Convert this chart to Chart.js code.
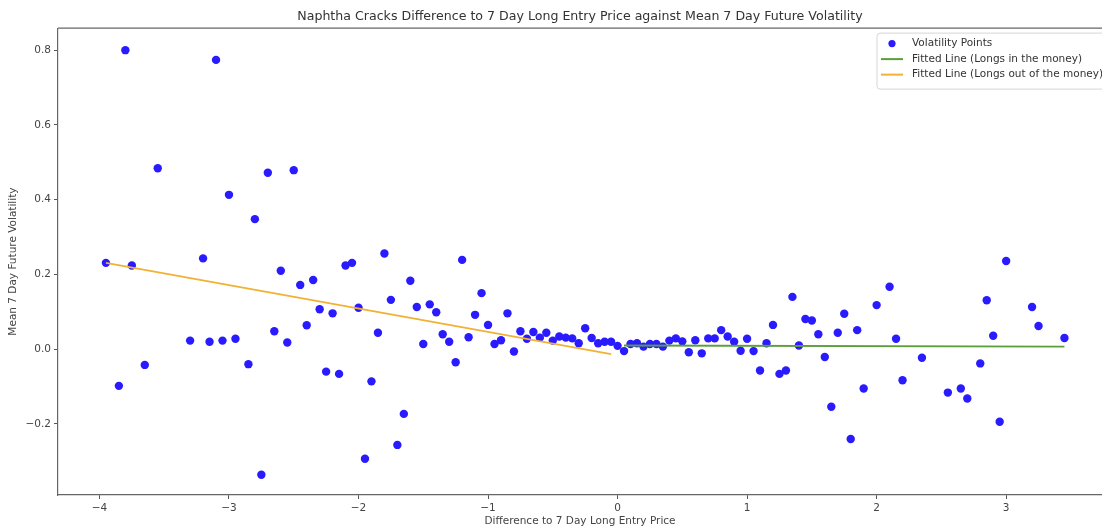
<!DOCTYPE html>
<html>
<head>
<meta charset="utf-8">
<script src="https://cdn.jsdelivr.net/npm/chart.js@4"></script>
<style>
  body { margin: 0; background: #fff; }
  #wrap { width: 1102px; height: 529px; position: relative; }
</style>
</head>
<body>
<div id="wrap"><canvas id="chart"></canvas></div>
<script>
// scatter points: difference to entry price vs mean 7 day future volatility
const diffX = [
  -3.95, -3.85, -3.80, -3.75, -3.65, -3.55, -3.30, -3.20, -3.15, -3.10,
  -3.05, -3.00, -2.95, -2.85, -2.80, -2.75, -2.70, -2.65, -2.60, -2.55,
  -2.50, -2.45, -2.40, -2.35, -2.30, -2.25, -2.20, -2.15, -2.10, -2.05,
  -2.00, -1.95, -1.90, -1.85, -1.80, -1.75, -1.70, -1.65, -1.60, -1.55,
  -1.50, -1.45, -1.40, -1.35, -1.30, -1.25, -1.20, -1.15, -1.10, -1.05,
  -1.00, -0.95, -0.90, -0.85, -0.80, -0.75, -0.70, -0.65, -0.60, -0.55,
  -0.50, -0.45, -0.40, -0.35, -0.30, -0.25, -0.20, -0.15, -0.10, -0.05,
  0.00, 0.05, 0.10, 0.15, 0.20, 0.25, 0.30, 0.35, 0.40, 0.45,
  0.50, 0.55, 0.60, 0.65, 0.70, 0.75, 0.80, 0.85, 0.90, 0.95,
  1.00, 1.05, 1.10, 1.15, 1.20, 1.25, 1.30, 1.35, 1.40, 1.45,
  1.50, 1.55, 1.60, 1.65, 1.70, 1.75, 1.80, 1.85, 1.90, 2.00,
  2.10, 2.15, 2.20, 2.35, 2.55, 2.65, 2.70, 2.80, 2.85, 2.90,
  2.95, 3.00, 3.20, 3.25, 3.45
];
const volY = [
  0.231, -0.098, 0.800, 0.224, -0.042, 0.484, 0.023, 0.243, 0.020, 0.774,
  0.023, 0.413, 0.028, -0.040, 0.348, -0.336, 0.472, 0.048, 0.210, 0.018,
  0.479, 0.172, 0.064, 0.185, 0.107, -0.060, 0.096, -0.066, 0.224, 0.231,
  0.111, -0.293, -0.086, 0.044, 0.256, 0.132, -0.256, -0.173, 0.183, 0.113,
  0.014, 0.120, 0.099, 0.040, 0.020, -0.035, 0.239, 0.032, 0.092, 0.150,
  0.065, 0.014, 0.024, 0.096, -0.006, 0.048, 0.028, 0.046, 0.031, 0.044,
  0.023, 0.034, 0.031, 0.029, 0.016, 0.056, 0.030, 0.016, 0.020, 0.020,
  0.009, -0.005, 0.014, 0.016, 0.007, 0.014, 0.014, 0.007, 0.023, 0.029,
  0.021, -0.008, 0.024, -0.011, 0.029, 0.029, 0.051, 0.034, 0.020, -0.004,
  0.028, -0.005, -0.057, 0.016, 0.065, -0.066, -0.057, 0.140, 0.010, 0.081,
  0.077, 0.040, -0.021, -0.154, 0.044, 0.095, -0.240, 0.051, -0.105, 0.118,
  0.167, 0.028, -0.083, -0.023, -0.116, -0.105, -0.132, -0.038, 0.131, 0.036,
  -0.194, 0.236, 0.113, 0.062, 0.030
];

// fitted line end points
const inMoneyX = [0.05, 3.45];
const inMoneyY = [0.010, 0.007];
const outMoneyX = [-3.95, -0.05];
const outMoneyY = [0.231, -0.013];

const xTicks = [-4, -3, -2, -1, 0, 1, 2, 3];
const yTicks = [-0.2, 0.0, 0.2, 0.4, 0.6, 0.8];

const seriesNames = ['Volatility Points', 'Fitted Line (Longs in the money)', 'Fitted Line (Longs out of the money)'];

const FONT = 'DejaVu Sans';
const toPts = (xs, ys) => xs.map((x, i) => ({ x, y: ys[i] }));
const minus = s => String(s).replace('-', '\u2212');

// matplotlib style top spine and legend inside the axes
const framePlugin = {
  id: 'frame',
  afterDraw(chart) {
    const { ctx, chartArea: a } = chart;
    ctx.save();
    ctx.strokeStyle = '#666';
    ctx.lineWidth = 1.2;
    ctx.beginPath();
    ctx.moveTo(a.left, a.top);
    ctx.lineTo(a.right, a.top);
    ctx.stroke();

    // legend
    const lx = a.right - 225, ly = a.top + 5, lw = 240, lh = 56;
    ctx.fillStyle = 'rgba(255,255,255,0.85)';
    ctx.strokeStyle = '#d6d6d6';
    ctx.lineWidth = 1;
    ctx.beginPath();
    ctx.roundRect(lx, ly, lw, lh, 3);
    ctx.fill();
    ctx.stroke();

    const ds = chart.data.datasets;
    ctx.font = '10.5px "' + FONT + '"';
    ctx.textBaseline = 'middle';
    ds.forEach((d, i) => {
      const cy = ly + 10.5 + i * 15.5;
      if (i === 0) {
        ctx.fillStyle = d.backgroundColor;
        ctx.beginPath();
        ctx.arc(lx + 15, cy, 3.6, 0, Math.PI * 2);
        ctx.fill();
      } else {
        ctx.strokeStyle = d.borderColor;
        ctx.lineWidth = 2;
        ctx.beginPath();
        ctx.moveTo(lx + 4, cy);
        ctx.lineTo(lx + 26, cy);
        ctx.stroke();
      }
      ctx.fillStyle = '#333';
      ctx.fillText(d.label, lx + 35, cy);
    });
    ctx.restore();
  }
};

new Chart(document.getElementById('chart'), {
  type: 'scatter',
  data: {
    datasets: [
      {
        label: seriesNames[0],
        data: toPts(diffX, volY),
        backgroundColor: '#2a1bff',
        borderWidth: 0,
        pointRadius: 4.2,
        order: 3
      },
      {
        label: seriesNames[1],
        type: 'line',
        data: toPts(inMoneyX, inMoneyY),
        borderColor: '#5b9e3c',
        borderWidth: 1.8,
        pointRadius: 0,
        fill: false,
        order: 1
      },
      {
        label: seriesNames[2],
        type: 'line',
        data: toPts(outMoneyX, outMoneyY),
        borderColor: '#f2b134',
        borderWidth: 1.8,
        pointRadius: 0,
        fill: false,
        order: 2
      }
    ]
  },
  options: {
    responsive: true,
    maintainAspectRatio: false,
    animation: false,
    layout: { padding: 0, autoPadding: false },
    plugins: {
      legend: { display: false },
      tooltip: { enabled: false },
      title: {
        display: true,
        fullSize: false,
        text: 'Naphtha Cracks Difference to 7 Day Long Entry Price against Mean 7 Day Future Volatility',
        color: '#333',
        font: { family: FONT, size: 12.6, weight: 'normal' },
        padding: { top: 9, bottom: 4 }
      }
    },
    scales: {
      x: {
        type: 'linear',
        min: -4.32,
        max: 3.74,
        afterFit: s => { s.height = 34; s.paddingLeft = 0; s.paddingRight = 0; },
        afterBuildTicks: s => { s.ticks = xTicks.map(v => ({ value: v })); },
        grid: { drawOnChartArea: false, drawTicks: true, tickLength: 4, tickColor: '#555' },
        border: { display: true, color: '#666', width: 1.2 },
        ticks: {
          color: '#444',
          padding: 3,
          font: { family: FONT, size: 10.5 },
          callback: v => minus(v)
        },
        title: {
          display: true,
          text: 'Difference to 7 Day Long Entry Price',
          color: '#444',
          font: { family: FONT, size: 10.5 },
          padding: { top: 0, bottom: 1 }
        }
      },
      y: {
        type: 'linear',
        min: -0.39,
        max: 0.859,
        afterFit: s => { s.width = 58; s.paddingTop = 0; s.paddingBottom = 0; },
        afterBuildTicks: s => { s.ticks = yTicks.map(v => ({ value: v })); },
        grid: { drawOnChartArea: false, drawTicks: true, tickLength: 4, tickColor: '#555' },
        border: { display: true, color: '#666', width: 1.2 },
        ticks: {
          color: '#444',
          padding: 3,
          font: { family: FONT, size: 10.5 },
          callback: v => minus(Number(v).toFixed(1))
        },
        title: {
          display: true,
          text: 'Mean 7 Day Future Volatility',
          color: '#444',
          font: { family: FONT, size: 10.5 },
          padding: { top: 7, bottom: 0 }
        }
      }
    }
  },
  plugins: [framePlugin]
});
</script>
</body>
</html>
